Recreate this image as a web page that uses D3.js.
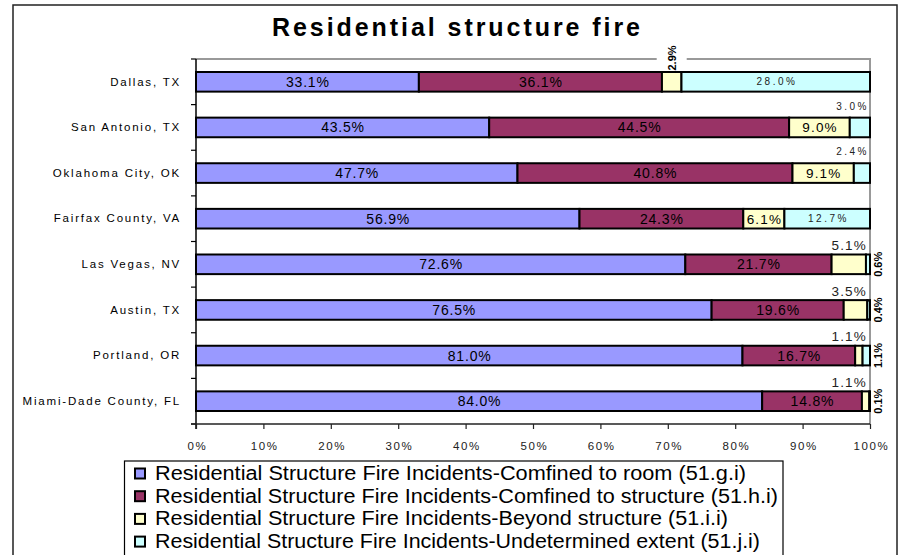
<!DOCTYPE html>
<html>
<head>
<meta charset="utf-8">
<script src="https://cdn.jsdelivr.net/npm/d3@7"></script>
<style>
  html, body { margin: 0; padding: 0; background: #fff; }
  svg { display: block; font-family: Arial, "Liberation Sans", sans-serif; }
</style>
</head>
<body>
<svg id="chart" width="900" height="555"></svg>
<script>
// ---------------- DATA ----------------
const title = "Residential structure fire";
const categories = [
  "Dallas, TX", "San Antonio, TX", "Oklahoma City, OK", "Fairfax County, VA",
  "Las Vegas, NV", "Austin, TX", "Portland, OR", "Miami-Dade County, FL"
];
const seriesNames = [
  "Residential Structure Fire Incidents-Comfined to room (51.g.i)",
  "Residential Structure Fire Incidents-Comfined to structure (51.h.i)",
  "Residential Structure Fire Incidents-Beyond structure (51.i.i)",
  "Residential Structure Fire Incidents-Undetermined extent (51.j.i)"
];
const confinedToRoom      = [33.1, 43.5, 47.7, 56.9, 72.6, 76.5, 81.0, 84.0];
const confinedToStructure = [36.1, 44.5, 40.8, 24.3, 21.7, 19.6, 16.7, 14.8];
const beyondStructure     = [2.9, 9.0, 9.1, 6.1, 5.1, 3.5, 1.1, 1.1];
const undeterminedExtent  = [28.0, 3.0, 2.4, 12.7, 0.6, 0.4, 1.1, 0.1];
const xTickValues = [0, 10, 20, 30, 40, 50, 60, 70, 80, 90, 100];

// ---------------- STYLE ----------------
const colors = ["#9999FF", "#993366", "#FFFFCC", "#CCFFFF"];
const series = [confinedToRoom, confinedToStructure, beyondStructure, undeterminedExtent];

const svg = d3.select("#chart");
const plot = { left: 196, right: 870, top: 59, bottom: 424 };

// outer chart border
svg.append("rect").attr("x", 13).attr("y", 5).attr("width", 884).attr("height", 620)
  .attr("fill", "#fff").attr("stroke", "#222").attr("stroke-width", 1.5);

// title
svg.append("text").attr("x", 456).attr("y", 36)
  .attr("text-anchor", "middle")
  .attr("font-size", 25).attr("font-weight", "bold")
  .attr("textLength", 368).attr("lengthAdjust", "spacing")
  .text(title);

const x = d3.scaleLinear().domain([0, 100]).range([plot.left, plot.right]);
const y = d3.scaleBand().domain(categories).range([plot.top, plot.bottom])
  .paddingInner(0.57).paddingOuter(0.285);

// plot area border (gray top and right)
svg.append("path")
  .attr("d", `M${plot.left},${plot.top}H${plot.right}V${plot.bottom}`)
  .attr("fill", "none").attr("stroke", "#999").attr("stroke-width", 2);

// stacked data (normalised to 100%)
const rows = categories.map((c, i) => {
  const vals = series.map(s => s[i]);
  const total = d3.sum(vals);
  let acc = 0;
  return vals.map((v, k) => {
    const seg = { cat: c, i, k, v, x0: acc / total * 100, x1: (acc + v) / total * 100 };
    acc += v;
    return seg;
  });
});
const segs = rows.flat();

svg.append("g").selectAll("rect").data(segs).join("rect")
  .attr("x", d => x(d.x0))
  .attr("y", d => y(d.cat))
  .attr("width", d => x(d.x1) - x(d.x0))
  .attr("height", y.bandwidth())
  .attr("fill", d => colors[d.k])
  .attr("stroke", "#000").attr("stroke-width", 2);

// axes
const yAxis = d3.axisLeft(y).tickSize(0).tickPadding(15);
const gy = svg.append("g").attr("transform", `translate(${plot.left},0)`).call(yAxis);
gy.select(".domain").remove();
gy.selectAll("text").attr("font-size", 11.5).attr("letter-spacing", 1.8)
  .attr("fill", "#000").attr("font-family", "Arial, 'Liberation Sans', sans-serif");
// category boundary ticks
const bounds = d3.range(categories.length + 1).map(i => plot.top + i * y.step());
svg.append("g").selectAll("line").data(bounds).join("line")
  .attr("x1", plot.left - 5).attr("x2", plot.left)
  .attr("y1", d => d).attr("y2", d => d)
  .attr("stroke", "#000").attr("stroke-width", 1.2);
svg.append("line").attr("x1", plot.left).attr("x2", plot.left)
  .attr("y1", plot.top).attr("y2", plot.bottom + 5)
  .attr("stroke", "#000").attr("stroke-width", 1.5);

const xAxis = d3.axisBottom(x).tickValues(xTickValues).tickFormat(d => d + "%")
  .tickSize(5).tickSizeOuter(0).tickPadding(13);
const gx = svg.append("g").attr("transform", `translate(0,${plot.bottom})`).call(xAxis);
gx.select(".domain").attr("stroke", "#222").attr("stroke-width", 1.5)
  .attr("d", `M${plot.left - 5},0H${plot.right}`);
gx.selectAll(".tick line").attr("stroke", "#222").attr("stroke-width", 1.2);
gx.selectAll("text").attr("font-size", 11.5).attr("letter-spacing", 1.6)
  .attr("fill", "#222").attr("font-family", "Arial, 'Liberation Sans', sans-serif")
  .attr("dx", 0.8);

// ---------------- DATA LABELS ----------------
const fmt = v => v.toFixed(1) + "%";
const labelStyle = [
  { size: 14, ls: 0.8 },
  { size: 14, ls: 0.8 },
  { size: 13.5, ls: 1.2 },
  { size: 10, ls: 2.5 }
];
const lg = svg.append("g");
segs.forEach(d => {
  const cx = (x(d.x0) + x(d.x1)) / 2;
  const top = y(d.cat);
  const cy = top + y.bandwidth() / 2;
  const st = labelStyle[d.k];
  const inside = d.k < 2 || (d.k === 2 && d.v >= 6) || (d.k === 3 && d.v >= 10);
  if (inside) {
    lg.append("text").attr("x", cx + st.ls / 2).attr("y", cy + st.size * 0.36)
      .attr("text-anchor", "middle").attr("font-size", st.size)
      .attr("letter-spacing", st.ls).attr("fill", d.k === 3 ? "#222" : "#000")
      .text(fmt(d.v));
  } else if (d.k === 2 && d.i === 0) {
    // rotated bold label above the bar, breaking the plot border
    lg.append("rect").attr("x", cx - 15).attr("y", plot.top - 3).attr("width", 30).attr("height", 6)
      .attr("fill", "#fff");
    lg.append("text").attr("transform", `translate(${cx + 4},${top - 14}) rotate(-90)`)
      .attr("text-anchor", "middle").attr("font-size", 11).attr("font-weight", "bold")
      .text(fmt(d.v));
  } else if (d.k === 3 && d.i <= 2) {
    lg.append("text").attr("x", plot.right - 1).attr("y", top - 8)
      .attr("text-anchor", "end").attr("font-size", st.size)
      .attr("letter-spacing", st.ls).attr("fill", "#222")
      .text(fmt(d.v));
  } else if (d.k === 2) {
    lg.append("text").attr("x", plot.right - 3).attr("y", top - 4.5)
      .attr("text-anchor", "end").attr("font-size", 13.5)
      .attr("letter-spacing", 1.2).attr("fill", "#222")
      .text(fmt(d.v));
  } else if (d.k === 3) {
    lg.append("text").attr("transform", `translate(${plot.right + 12},${cy}) rotate(-90)`)
      .attr("text-anchor", "middle").attr("font-size", 11).attr("font-weight", "bold")
      .text(fmt(d.v));
  }
});

// ---------------- LEGEND ----------------
svg.append("rect").attr("x", 124.5).attr("y", 461).attr("width", 658.5).attr("height", 120)
  .attr("fill", "#fff").attr("stroke", "#000").attr("stroke-width", 1.2);
const legendWidths = [591, 623, 573, 605];
const leg = svg.append("g").selectAll("g").data(seriesNames).join("g")
  .attr("transform", (d, i) => `translate(0,${473.5 + i * 22.7})`);
leg.append("rect").attr("x", 135).attr("y", -5).attr("width", 10).attr("height", 10)
  .attr("fill", (d, i) => colors[i]).attr("stroke", "#000").attr("stroke-width", 2);
leg.append("text").attr("x", 155).attr("y", 6.5)
  .attr("font-size", 19.5)
  .attr("textLength", (d, i) => legendWidths[i]).attr("lengthAdjust", "spacingAndGlyphs")
  .text(d => d);
</script>
</body>
</html>
